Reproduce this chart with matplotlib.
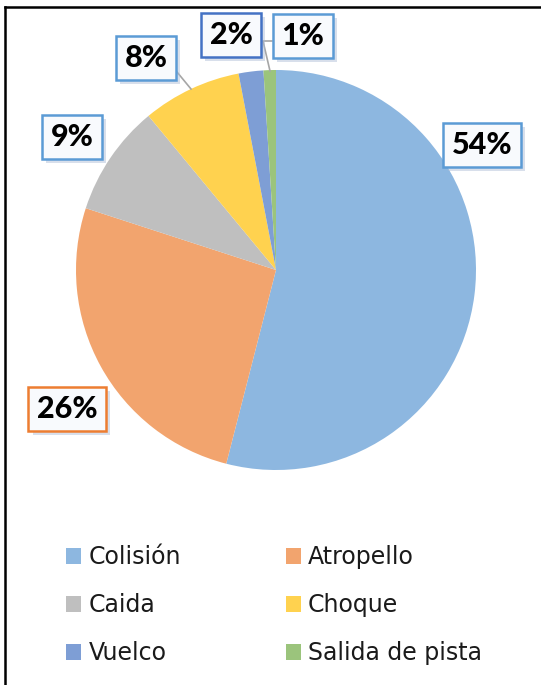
import matplotlib
matplotlib.use("Agg")
import matplotlib.pyplot as plt
from matplotlib.patches import Patch
from matplotlib.lines import Line2D
import matplotlib.patheffects as pe

categories = ["Colisión", "Atropello", "Caida", "Choque", "Vuelco", "Salida de pista"]
values = [54, 26, 9, 8, 2, 1]
pct_labels = ["54%", "26%", "9%", "8%", "2%", "1%"]
colors = ["#8DB7E0", "#F2A46E", "#BFBFBF", "#FFD24F", "#7E9ED5", "#9BC47C"]
box_edges = ["#5B9BD5", "#ED7D31", "#5B9BD5", "#5B9BD5", "#4472C4", "#5B9BD5"]

W, H = 541, 685
fig = plt.figure(figsize=(W / 100, H / 100), dpi=100)
fig.patch.set_facecolor("white")

# pie axes: center (276,270) px, radius 200 px
cx, cy, r = 276, 270, 200
ax = fig.add_axes([(cx - r) / W, (H - cy - r) / H, 2 * r / W, 2 * r / H])
wedges, _ = ax.pie(values, colors=colors, startangle=90, counterclock=False,
                   radius=1.0, wedgeprops=dict(linewidth=0))
ax.set_xlim(-1, 1)
ax.set_ylim(-1, 1)
ax.set_aspect("equal")
ax.axis("off")

def px2d(x, y):
    return ((x - cx) / r, (cy - y) / r)

# label centers in pixel coords
label_px = [(482, 145), (67, 409), (72, 137), (146, 58), (231, 35), (303, 36)]
font = "Lato"
for lab, (lx, ly), ec in zip(pct_labels, label_px, box_edges):
    x, y = px2d(lx, ly)
    t = ax.text(x, y, lab, ha="center", va="center", fontsize=22, fontweight="black",
                color="black", family=font, clip_on=False,
                bbox=dict(boxstyle="square,pad=0.27", fc="#F8FAFD", ec=ec, lw=1.8))
    t.get_bbox_patch().set_path_effects([
        pe.SimplePatchShadow(offset=(3, -3), shadow_rgbFace="#A9BAD4", alpha=0.45),
        pe.Normal()])

# leader lines
p = [px2d(177, 72), px2d(191, 89)]
ax.add_line(Line2D([p[0][0], p[1][0]], [p[0][1], p[1][1]], color="#A6A6A6", lw=1.2, clip_on=False))
p = [px2d(272, 41), px2d(263, 41), px2d(270, 71)]
ax.add_line(Line2D([q[0] for q in p], [q[1] for q in p], color="#A6A6A6", lw=1.2, clip_on=False))

# frame (left and top border)
fig.add_artist(Line2D([5 / W, 5 / W], [0, 1 - 7 / H], color="black", lw=1.8))
fig.add_artist(Line2D([5 / W, 1], [1 - 7 / H, 1 - 7 / H], color="black", lw=1.8))

# legend (rows: Colisión/Atropello, Caida/Choque, Vuelco/Salida)
handles = [Patch(facecolor=c, edgecolor="none") for c in colors]
order = [0, 2, 4, 1, 3, 5]
leg = fig.legend([handles[i] for i in order], [categories[i] for i in order],
                 ncol=2, loc="upper left", bbox_to_anchor=(66 / W, 1 - 545 / H),
                 frameon=False, prop=dict(family="DejaVu Sans", size=17), borderpad=0,
                 borderaxespad=0,
                 handlelength=0.65, handleheight=0.65, handletextpad=0.3,
                 columnspacing=4.43, labelspacing=1.02)
for t in leg.get_texts():
    t.set_color("#1a1a1a")

fig.savefig("out.png", dpi=100)
